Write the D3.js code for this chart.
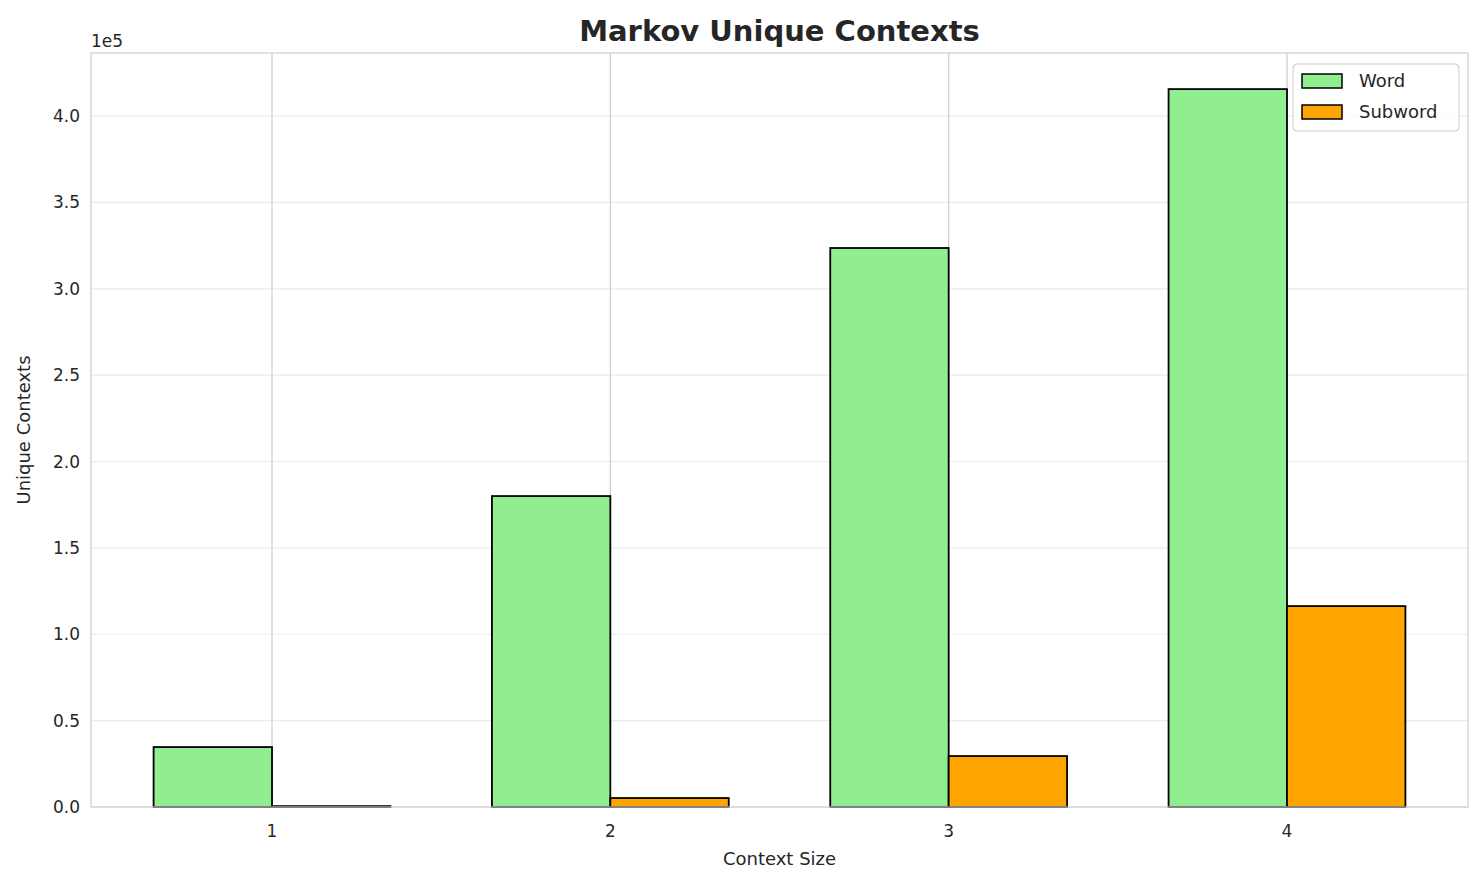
<!DOCTYPE html>
<html>
<head>
<meta charset="utf-8">
<script src="https://cdn.jsdelivr.net/npm/d3@7"></script>
<style>
  body { margin: 0; background: #fff; }
  text { font-family: "DejaVu Sans", sans-serif; fill: #262626; }
</style>
</head>
<body>
<script>
const categories = [1, 2, 3, 4];
const wordValues = [34700, 180000, 323600, 415600];
const subwordValues = [500, 5200, 29500, 116300];
const yTicks = [0, 0.5, 1.0, 1.5, 2.0, 2.5, 3.0, 3.5, 4.0];

const W = 1484, H = 885;
const margin = { top: 53, right: 16, bottom: 78, left: 91 };
const width = W - margin.left - margin.right,
  height = H - margin.top - margin.bottom;
const barW = 0.35;

const svg = d3.select("body").append("svg").attr("width", W).attr("height", H);
const g = svg.append("g").attr("transform", "translate(" + margin.left + "," + margin.top + ")");

const x = d3.scaleLinear().domain([-0.535, 3.535]).range([0, width]);
const y = d3.scaleLinear().domain([0, 436500]).range([height, 0]);

// grid
g.selectAll(".hgrid").data(yTicks).enter().append("line")
  .attr("x1", 0).attr("x2", width)
  .attr("y1", d => y(d * 1e5)).attr("y2", d => y(d * 1e5))
  .style("stroke", "#ebebeb").style("stroke-width", 1.2);
g.selectAll(".vgrid").data(categories).enter().append("line")
  .attr("x1", (d, i) => x(i)).attr("x2", (d, i) => x(i))
  .attr("y1", 0).attr("y2", height)
  .style("stroke", "#cccccc").style("stroke-width", 1.2);

// bars
const series = [
  { name: "Word", values: wordValues, color: "#90ee90", off: -barW },
  { name: "Subword", values: subwordValues, color: "#ffa500", off: 0 }
];
series.forEach(s => {
  g.selectAll(null).data(s.values).enter().append("rect")
    .attr("x", (d, i) => x(i + s.off))
    .attr("width", x(barW) - x(0))
    .attr("y", d => y(d))
    .attr("height", d => y(0) - y(d))
    .style("fill", s.color).style("stroke", "#000").style("stroke-width", 1.8);
});

// frame
g.append("rect").attr("width", width).attr("height", height)
  .style("fill", "none").style("stroke", "#cccccc").style("stroke-width", 1.2);

// axes labels
g.selectAll(".xt").data(categories).enter().append("text")
  .attr("x", (d, i) => x(i)).attr("y", height + 30)
  .attr("text-anchor", "middle").style("font-size", "17px").text(d => d);
g.selectAll(".yt").data(yTicks).enter().append("text")
  .attr("x", -11).attr("y", d => y(d * 1e5) + 6)
  .attr("text-anchor", "end").style("font-size", "17px").text(d => d.toFixed(1));
g.append("text").attr("x", 0).attr("y", -6).style("font-size", "17px").text("1e5");

svg.append("text").attr("x", margin.left + width / 2).attr("y", 865)
  .attr("text-anchor", "middle").style("font-size", "18px").text("Context Size");
svg.append("text").attr("transform", "translate(30," + (margin.top + height / 2) + ") rotate(-90)")
  .attr("text-anchor", "middle").style("font-size", "18px").text("Unique Contexts");
svg.append("text").attr("x", margin.left + width / 2).attr("y", 41)
  .attr("text-anchor", "middle").style("font-size", "29px").style("font-weight", "bold").text("Markov Unique Contexts");

// legend
const lg = g.append("g").attr("transform", "translate(" + (width - 175) + ",11)");
lg.append("rect").attr("width", 166).attr("height", 67).attr("rx", 4)
  .style("fill", "#fff").style("fill-opacity", 0.8).style("stroke", "#cccccc");
series.forEach((s, i) => {
  lg.append("rect").attr("x", 9).attr("y", 10 + i * 31).attr("width", 40).attr("height", 14)
    .style("fill", s.color).style("stroke", "#000").style("stroke-width", 1.5);
  lg.append("text").attr("x", 66).attr("y", 23 + i * 31).style("font-size", "18px").text(s.name);
});
</script>
</body>
</html>
